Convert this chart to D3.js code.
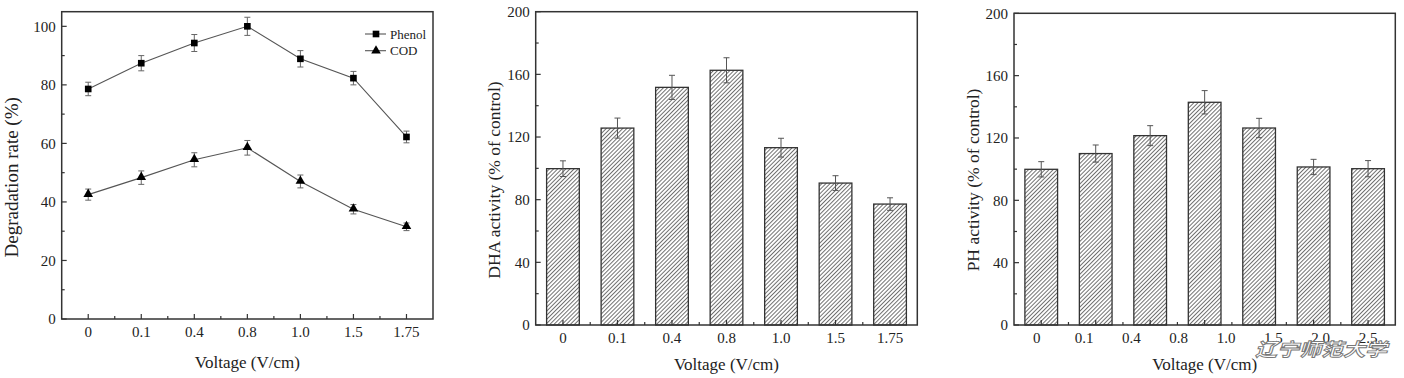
<!DOCTYPE html>
<html><head><meta charset="utf-8">
<script src="https://cdn.jsdelivr.net/npm/d3@7"></script>
<style>
html,body{margin:0;padding:0;background:#fff;}
svg{display:block;font-family:"Liberation Serif","Times New Roman",serif;}
</style></head>
<body>
<svg id="c" width="1404" height="378"></svg>
<script>
// ---------- data ----------
const voltLabels = ["0","0.1","0.4","0.8","1.0","1.5","1.75"];
const phenol    = [78.6, 87.4, 94.3, 100.0, 88.9, 82.3, 62.2];
const phenolErr = [2.3, 2.6, 2.9, 3.1, 2.8, 2.3, 2.0];
const cod       = [42.5, 48.3, 54.4, 58.5, 47.0, 37.5, 31.5];
const codErr    = [1.9, 2.3, 2.4, 2.5, 2.2, 1.6, 1.3];
const dha       = [99.8, 125.7, 151.7, 162.6, 113.2, 90.6, 77.2];
const dhaErr    = [5.0, 6.4, 7.7, 8.0, 6.0, 4.7, 4.0];
const phCats    = ["c0","c1","c2","c3","c4","c5","c6"];
const ph        = [99.9, 110.0, 121.5, 142.9, 126.4, 101.4, 100.3];
const phErr     = [4.9, 5.5, 6.4, 7.5, 6.2, 4.9, 5.2];
const phTickLabels = ["0","0.1","0.4","0.8","1.0","1.5","2.0","2.5"];
const yTicks1 = [0,20,40,60,80,100];
const yMinor1 = [10,30,50,70,90];
const yTicks2 = [0,40,80,120,160,200];
const yMinor2 = [20,60,100,140,180];
const watermark = "辽宁师范大学";

const svg = d3.select("#c");
const defs = svg.append("defs");
const pat = defs.append("pattern").attr("id","hatch").attr("patternUnits","userSpaceOnUse")
  .attr("width",2.9).attr("height",10).attr("patternTransform","rotate(45)");
pat.append("rect").attr("width",2.9).attr("height",10).attr("fill","#fff");
pat.append("line").attr("x1",0.5).attr("y1",0).attr("x2",0.5).attr("y2",10)
  .attr("stroke","#555").attr("stroke-width",0.85);

const AX = "#333";
function frame(g, x0, x1, y0, y1){
  g.append("rect").attr("x",x0).attr("y",y0).attr("width",x1-x0).attr("height",y1-y0)
   .attr("fill","none").attr("stroke",AX).attr("stroke-width",1.5);
}
function yAxis(g, y, x0, ticks, minor, fs){
  ticks.forEach(t=>{
    g.append("line").attr("x1",x0).attr("x2",x0+5).attr("y1",y(t)).attr("y2",y(t)).attr("stroke",AX).attr("stroke-width",1.2);
    g.append("text").attr("x",x0-6).attr("y",y(t)).attr("dy","0.35em").attr("text-anchor","end")
     .attr("font-size",fs).attr("fill","#222").text(t);
  });
  minor.forEach(t=>{
    g.append("line").attr("x1",x0).attr("x2",x0+3).attr("y1",y(t)).attr("y2",y(t)).attr("stroke",AX).attr("stroke-width",1.2);
  });
}
function xTicks(g, centers, yb){
  centers.forEach(c=>{
    g.append("line").attr("x1",c).attr("x2",c).attr("y1",yb).attr("y2",yb-5).attr("stroke",AX).attr("stroke-width",1.2);
  });
  for(let i=0;i<centers.length-1;i++){
    const m=(centers[i]+centers[i+1])/2;
    g.append("line").attr("x1",m).attr("x2",m).attr("y1",yb).attr("y2",yb-3).attr("stroke",AX).attr("stroke-width",1.2);
  }
}
function errBar(g, cx, yv, e, y, col){
  const t=y(yv+e), b=y(yv-e);
  g.append("line").attr("x1",cx).attr("x2",cx).attr("y1",t).attr("y2",b).attr("stroke",col).attr("stroke-width",1);
  [t,b].forEach(v=>g.append("line").attr("x1",cx-3).attr("x2",cx+3).attr("y1",v).attr("y2",v).attr("stroke",col).attr("stroke-width",1));
}

// ---------- panel 1: line chart ----------
{
  const g = svg.append("g");
  const X0=61.7, X1=433, Y0=11.7, Y1=319;
  const x = d3.scalePoint().domain(voltLabels).range([X0,X1]).padding(0.5);
  const y = d3.scaleLinear().domain([0,105]).range([Y1,Y0]);
  yAxis(g, y, X0, yTicks1, yMinor1, 15);
  xTicks(g, voltLabels.map(v=>x(v)), Y1);
  voltLabels.forEach(v=>g.append("text").attr("x",x(v)).attr("y",Y1+18).attr("text-anchor","middle")
    .attr("font-size",15).attr("fill","#222").text(v));
  const line = d3.line().x((d,i)=>x(voltLabels[i])).y(d=>y(d));
  [[phenol,phenolErr],[cod,codErr]].forEach(([s,e])=>{
    g.append("path").attr("d",line(s)).attr("fill","none").attr("stroke","#555").attr("stroke-width",1.1);
    s.forEach((v,i)=>errBar(g, x(voltLabels[i]), v, e[i], y, "#666"));
  });
  const sq = d3.symbol().type(d3.symbolSquare).size(44);
  const tri = d3.symbol().type(d3.symbolTriangle).size(40);
  phenol.forEach((v,i)=>g.append("path").attr("d",sq()).attr("transform",`translate(${x(voltLabels[i])},${y(v)})`).attr("fill","#000"));
  cod.forEach((v,i)=>g.append("path").attr("d",tri()).attr("transform",`translate(${x(voltLabels[i])},${y(v)-0.5})`).attr("fill","#000"));
  // legend
  [["Phenol",sq,34],["COD",tri,50.7]].forEach(([lab,sym,ly])=>{
    g.append("line").attr("x1",365).attr("x2",386).attr("y1",ly).attr("y2",ly).attr("stroke","#555").attr("stroke-width",1.1);
    g.append("path").attr("d",sym()).attr("transform",`translate(376,${ly})`).attr("fill","#000");
    g.append("text").attr("x",390).attr("y",ly).attr("dy","0.35em").attr("font-size",13).attr("fill","#222").text(lab);
  });
  frame(g,X0,X1,Y0,Y1);
  g.append("text").attr("x",(X0+X1)/2).attr("y",368).attr("text-anchor","middle").attr("font-size",17).attr("fill","#222").text("Voltage (V/cm)");
  g.append("text").attr("transform",`translate(18,${(Y0+Y1)/2+12}) rotate(-90)`).attr("text-anchor","middle")
   .attr("font-size",19).attr("fill","#222").text("Degradation rate (%)");
}

// ---------- bar panels ----------
function barPanel(cfg){
  const g = svg.append("g");
  const {X0,X1,Y0,Y1,cats,vals,errs,title,titleX,tickLabels,labelScale} = cfg;
  const x = d3.scaleBand().domain(cats).range([X0,X1]).paddingInner(0.4).paddingOuter(0.2);
  const y = d3.scaleLinear().domain([0,200]).range([Y1,Y0]);
  vals.forEach((v,i)=>{
    g.append("rect").attr("x",x(cats[i])).attr("y",y(v)).attr("width",x.bandwidth()).attr("height",y(0)-y(v))
     .attr("fill","url(#hatch)").attr("stroke","#333").attr("stroke-width",1.3);
  });
  vals.forEach((v,i)=>errBar(g, x(cats[i])+x.bandwidth()/2, v, errs[i], y, "#555"));
  yAxis(g, y, X0, yTicks2, yMinor2, 15);
  const centers = cats.map(c=>x(c)+x.bandwidth()/2);
  xTicks(g, centers, Y1);
  const lx = labelScale ? labelScale(x) : (d,i)=>centers[i];
  tickLabels.forEach((t,i)=>g.append("text").attr("x",lx(t,i)).attr("y",Y1+18).attr("text-anchor","middle")
    .attr("font-size",15).attr("fill","#222").text(t));
  frame(g,X0,X1,Y0,Y1);
  g.append("text").attr("x",(X0+X1)/2).attr("y",369.5).attr("text-anchor","middle").attr("font-size",17).attr("fill","#222").text("Voltage (V/cm)");
  g.append("text").attr("transform",`translate(${titleX},${180}) rotate(-90)`).attr("text-anchor","middle")
   .attr("font-size",17.5).attr("fill","#222").text(title);
}
barPanel({X0:535.7,X1:917.3,Y0:11.7,Y1:325,cats:voltLabels,vals:dha,errs:dhaErr,
  title:"DHA activity (% of control)",titleX:500,tickLabels:voltLabels});
barPanel({X0:1014,X1:1395.3,Y0:13.3,Y1:325,cats:phCats,vals:ph,errs:phErr,
  title:"PH activity (% of control)",titleX:978.5,tickLabels:phTickLabels,
  labelScale:(x)=>{
    const first=x(phCats[0])+x.bandwidth()/2, last=x(phCats[phCats.length-1])+x.bandwidth()/2;
    const s=d3.scalePoint().domain(phTickLabels).range([first-4.5,last]);
    return (t)=>s(t);
  }});

// watermark
svg.append("text").attr("x",1255).attr("y",356).attr("transform","skewX(0)")
  .attr("font-family","'Noto Sans CJK SC',sans-serif").attr("font-weight","bold").attr("font-size",18)
  .attr("textLength",132).attr("lengthAdjust","spacingAndGlyphs")
  .attr("fill","#fff").attr("stroke","#777").attr("stroke-width",0.9).attr("font-style","italic")
  .text(watermark);
</script>
</body></html>
